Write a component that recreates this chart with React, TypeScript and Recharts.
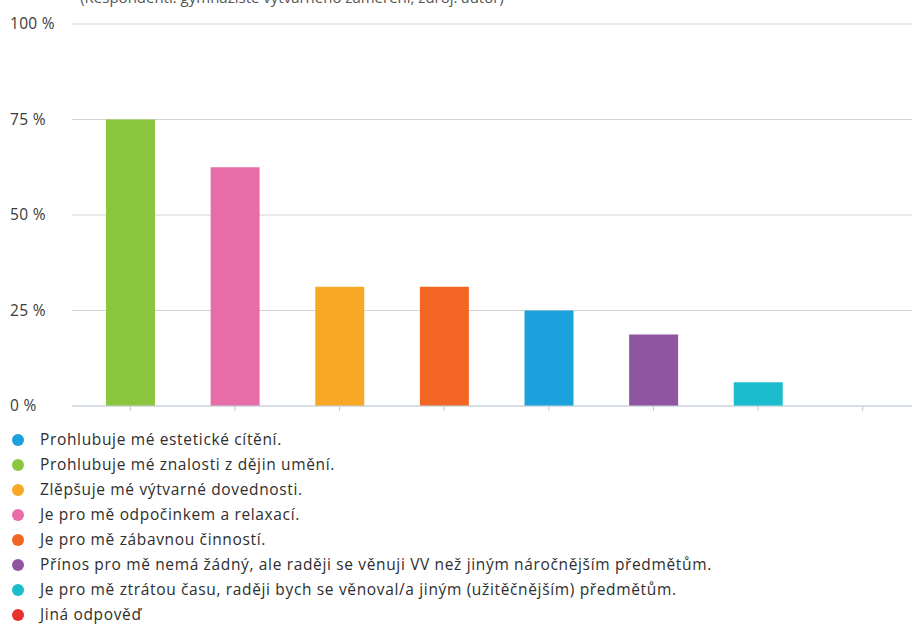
import React from 'react';
import { BarChart, Bar, Cell, XAxis, YAxis, CartesianGrid } from 'recharts';

// bars, sorted by share (16 respondents)
const barCategories = [
    'Prohlubuje mé znalosti z dějin umění.',
    'Je pro mě odpočinkem a relaxací.',
    'Zlěpšuje mé výtvarné dovednosti.',
    'Je pro mě zábavnou činností.',
    'Prohlubuje mé estetické cítění.',
    'Přínos pro mě nemá žádný, ale raději se věnuji VV než jiným náročnějším předmětům.',
    'Je pro mě ztrátou času, raději bych se věnoval/a jiným (užitěčnějším) předmětům.',
    'Jiná odpověď',
];
const barValues = [75, 62.5, 31.25, 31.25, 25, 18.75, 6.25, 0];
const barColors = ['#8cc63f', '#e86ca8', '#f9a825', '#f26522', '#1ba1dc', '#8e55a1', '#1bbccb', '#e8302c'];

// legend keeps the questionnaire order
const legendLabels = [
    'Prohlubuje mé estetické cítění.',
    'Prohlubuje mé znalosti z dějin umění.',
    'Zlěpšuje mé výtvarné dovednosti.',
    'Je pro mě odpočinkem a relaxací.',
    'Je pro mě zábavnou činností.',
    'Přínos pro mě nemá žádný, ale raději se věnuji VV než jiným náročnějším předmětům.',
    'Je pro mě ztrátou času, raději bych se věnoval/a jiným (užitěčnějším) předmětům.',
    'Jiná odpověď',
];
const legendColors = ['#1ba1dc', '#8cc63f', '#f9a825', '#e86ca8', '#f26522', '#8e55a1', '#1bbccb', '#e8302c'];

const yTicks = [0, 25, 50, 75, 100];
const title = '(Respondenti: gymnazisté výtvarného zaměření, zdroj: autor)';

const data = barCategories.map((name, i) => ({ name, value: barValues[i] }));

const FONT = '"Open Sans", sans-serif';

const YTick = (props: any) => {
    const { y, payload } = props;
    return (
        <text x={10} y={y} dy={5} textAnchor="start" fontSize={15.5} letterSpacing={0.3} fill="#3a3a3a" fontFamily={FONT}>
            {payload.value} %
        </text>
    );
};

const App: React.FC = () => (
    <div style={{ position: 'absolute', left: 0, top: 0, width: 912, height: 624, overflow: 'hidden', background: '#fff', fontFamily: FONT }}>
        <div style={{ position: 'absolute', left: 0, width: 584, top: -13, textAlign: 'center', fontSize: 15, color: '#555' }}>
            {title}
        </div>
        <div style={{ position: 'absolute', left: 0, top: 0 }}>
            <BarChart width={920} height={420} data={data} margin={{ top: 24, right: 5, left: 0, bottom: 0 }}>
                <CartesianGrid vertical={false} stroke="#d4d4d4" />
                <YAxis
                    domain={[0, 100]}
                    ticks={yTicks}
                    width={72}
                    axisLine={false}
                    tickLine={false}
                    tick={<YTick />}
                    interval={0}
                />
                <XAxis
                    dataKey="name"
                    height={14}
                    padding={{ left: 6, right: 0 }}
                    axisLine={{ stroke: '#c5d3e2' }}
                    tickLine={{ stroke: '#c8c8c8' }}
                    tickSize={5}
                    tick={() => <g />}
                    interval={0}
                />
                <Bar dataKey="value" barSize={49} isAnimationActive={false}>
                    {data.map((d, i) => (
                        <Cell key={`cell-${i}`} fill={barColors[i]} />
                    ))}
                </Bar>
            </BarChart>
        </div>
        <div style={{ position: 'absolute', left: 0, top: 427 }}>
            {legendLabels.map((label, i) => (
                <div key={label} style={{ display: 'flex', alignItems: 'center', height: 25 }}>
                    <span style={{ display: 'inline-block', width: 12, height: 12, borderRadius: 6, background: legendColors[i], marginLeft: 12, marginRight: 16 }} />
                    <span style={{ fontSize: 15.5, lineHeight: '17px', letterSpacing: 0.65, color: '#2e2e2e' }}>{label}</span>
                </div>
            ))}
        </div>
    </div>
);

export default App;
